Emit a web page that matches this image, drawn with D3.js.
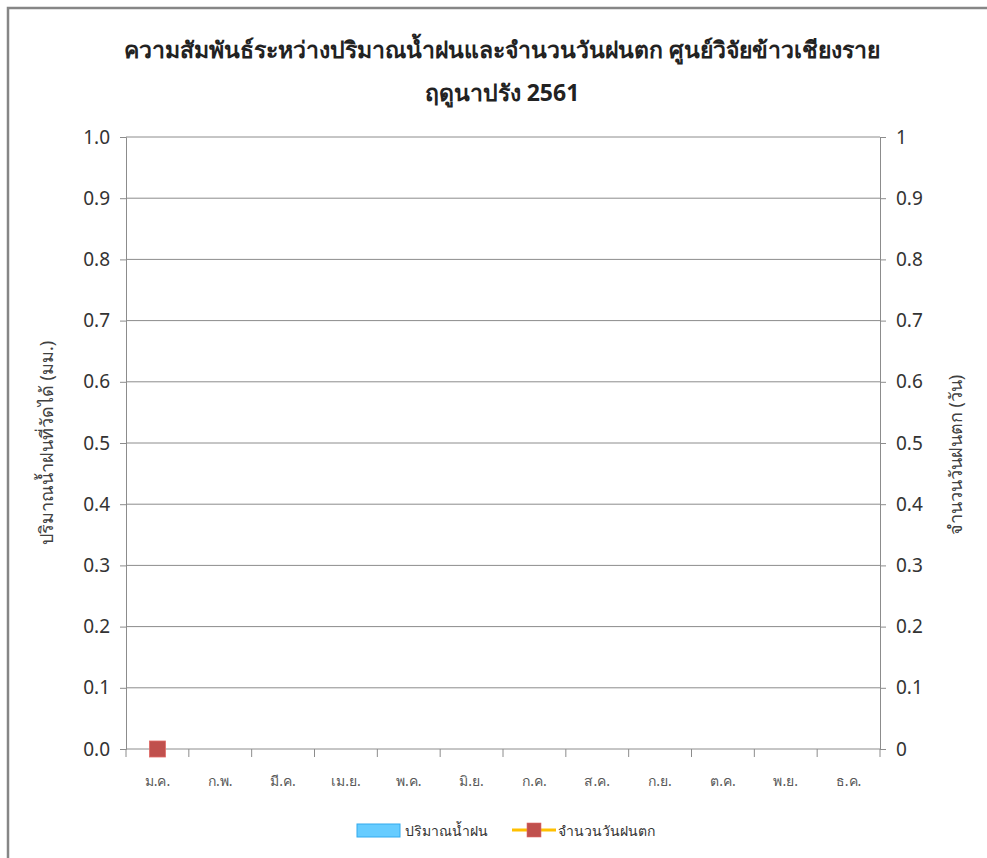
<!DOCTYPE html>
<html>
<head>
<meta charset="utf-8">
<script src="https://cdn.jsdelivr.net/npm/d3@7"></script>
<style>
  body { margin: 0; background: #fff; }
  text { font-family: "Noto Sans", "DejaVu Sans", sans-serif; }
</style>
</head>
<body>
<div id="chart"></div>
<script>
const width = 987
const height = 858
const margin = { top: 137, bottom: 109, left: 126, right: 107 }

// data
const months = ["ม.ค.", "ก.พ.", "มี.ค.", "เม.ย.", "พ.ค.", "มิ.ย.", "ก.ค.", "ส.ค.", "ก.ย.", "ต.ค.", "พ.ย.", "ธ.ค."]
const rainfall = [0, 0, 0, 0, 0, 0, 0, 0, 0, 0, 0, 0]
const rainDays = [0, null, null, null, null, null, null, null, null, null, null, null]
const leftTicks = [0, 0.1, 0.2, 0.3, 0.4, 0.5, 0.6, 0.7, 0.8, 0.9, 1.0]
const rightTicks = [0, 0.1, 0.2, 0.3, 0.4, 0.5, 0.6, 0.7, 0.8, 0.9, 1]

const innerW = width - margin.left - margin.right
const innerH = height - margin.top - margin.bottom
const gridColor = "#8c8c8c"

const svg = d3.select("div#chart").append("svg").attr("width", width).attr("height", height)

// outer chart border
svg.append("path")
    .attr("d", `M8,${height + 5} L8,8 L${width + 5},8`)
    .attr("fill", "none")
    .attr("stroke", "#868686")
    .attr("stroke-width", 2.5)

const x = d3.scaleBand().domain(months).range([0, innerW]).paddingInner(0.3).paddingOuter(0.15)
const y = d3.scaleLinear().domain([0, 1]).range([innerH, 0])
const y2 = d3.scaleLinear().domain([0, 1]).range([innerH, 0])

const g = svg.append("g").attr("transform", `translate(${margin.left}, ${margin.top})`)

// gridlines
g.selectAll("line.grid").data(leftTicks.filter(d => d > 0)).enter().append("line")
    .attr("class", "grid")
    .attr("x1", 0).attr("x2", innerW)
    .attr("y1", d => y(d)).attr("y2", d => y(d))
    .attr("stroke", gridColor).attr("stroke-width", 1)

// left axis
const yAxis = d3.axisLeft(y).tickValues(leftTicks).tickFormat(d3.format(".1f")).tickSize(6).tickPadding(10)
const yAxisGroup = g.append("g").call(yAxis)
// right axis
const y2Axis = d3.axisRight(y2).tickValues(rightTicks).tickFormat(d => d3.format("~g")(d)).tickSize(6).tickPadding(10)
const y2AxisGroup = g.append("g").attr("transform", `translate(${innerW}, 0)`).call(y2Axis)

;[yAxisGroup, y2AxisGroup].forEach(a => {
    a.select(".domain").attr("stroke", gridColor)
    a.selectAll(".tick line").attr("stroke", gridColor)
    a.selectAll(".tick text").attr("fill", "#333").style("font-size", "19px").attr("font-family", "Open Sans, Noto Sans, sans-serif")
})

// x axis with ticks at category boundaries
const xAxisGroup = g.append("g").attr("transform", `translate(0, ${innerH})`)
xAxisGroup.append("line").attr("x1", 0).attr("x2", innerW).attr("stroke", gridColor)
const step = innerW / months.length
xAxisGroup.selectAll("line.xt").data(d3.range(months.length + 1)).enter().append("line")
    .attr("class", "xt")
    .attr("x1", d => d * step).attr("x2", d => d * step)
    .attr("y1", 0).attr("y2", 8)
    .attr("stroke", gridColor)
xAxisGroup.selectAll("text").data(months).enter().append("text")
    .attr("x", d => x(d) + x.bandwidth() / 2)
    .attr("y", 37)
    .attr("text-anchor", "middle")
    .attr("fill", "#595959")
    .style("font-size", "14px")
    .text(d => d)

// bars (rainfall)
g.selectAll("rect.bar").data(rainfall).enter().append("rect")
    .attr("class", "bar")
    .attr("x", (d, i) => x(months[i]))
    .attr("y", d => y(d))
    .attr("width", x.bandwidth())
    .attr("height", d => innerH - y(d))
    .attr("fill", "#66ccff")

// line (rain days)
const lineFunc = d3.line()
    .defined(d => d !== null)
    .x((d, i) => x(months[i]) + x.bandwidth() / 2)
    .y(d => y2(d))
g.append("path")
    .attr("d", lineFunc(rainDays))
    .attr("fill", "none")
    .attr("stroke", "#ffc000")
    .attr("stroke-width", 3)

g.selectAll("rect.marker").data(rainDays.map((v, i) => ({ v, i })).filter(d => d.v !== null)).enter().append("rect")
    .attr("class", "marker")
    .attr("x", d => x(months[d.i]) + x.bandwidth() / 2 - 8)
    .attr("y", d => y2(d.v) - 8)
    .attr("width", 16).attr("height", 16)
    .attr("fill", "#c0504d")
    .attr("stroke", "#e06a66").attr("stroke-width", 0.8)

// title
svg.append("text").attr("x", 502).attr("y", 58).attr("text-anchor", "middle")
    .style("font-size", "23px").style("font-weight", "bold").attr("fill", "#222")
    .text("ความสัมพันธ์ระหว่างปริมาณน้ำฝนและจำนวนวันฝนตก ศูนย์วิจัยข้าวเชียงราย")
svg.append("text").attr("x", 502).attr("y", 101).attr("text-anchor", "middle")
    .style("font-size", "23px").style("font-weight", "bold").attr("fill", "#222")
    .text("ฤดูนาปรัง 2561")

// axis titles
svg.append("text").attr("transform", "translate(53, 443) rotate(-90)")
    .attr("text-anchor", "middle").attr("fill", "#404040").style("font-size", "18px")
    .text("ปริมาณน้ำฝนที่วัดได้ (มม.)")
svg.append("text").attr("transform", "translate(962, 455) rotate(-90)")
    .attr("text-anchor", "middle").attr("fill", "#404040").style("font-size", "18px")
    .text("จำนวนวันฝนตก (วัน)")

// legend
svg.append("rect").attr("x", 357).attr("y", 824).attr("width", 43).attr("height", 13)
    .attr("fill", "#66ccff").attr("stroke", "#33aaee").attr("stroke-width", 1)
svg.append("text").attr("x", 405).attr("y", 836).style("font-size", "14px").attr("fill", "#333")
    .text("ปริมาณน้ำฝน")
svg.append("line").attr("x1", 512).attr("x2", 556).attr("y1", 830).attr("y2", 830)
    .attr("stroke", "#ffc000").attr("stroke-width", 3)
svg.append("rect").attr("x", 527).attr("y", 823).attr("width", 14).attr("height", 14)
    .attr("fill", "#c0504d").attr("stroke", "#e06a66").attr("stroke-width", 0.6)
svg.append("text").attr("x", 558).attr("y", 836).style("font-size", "14px").attr("fill", "#333")
    .text("จำนวนวันฝนตก")
</script>
</body>
</html>
